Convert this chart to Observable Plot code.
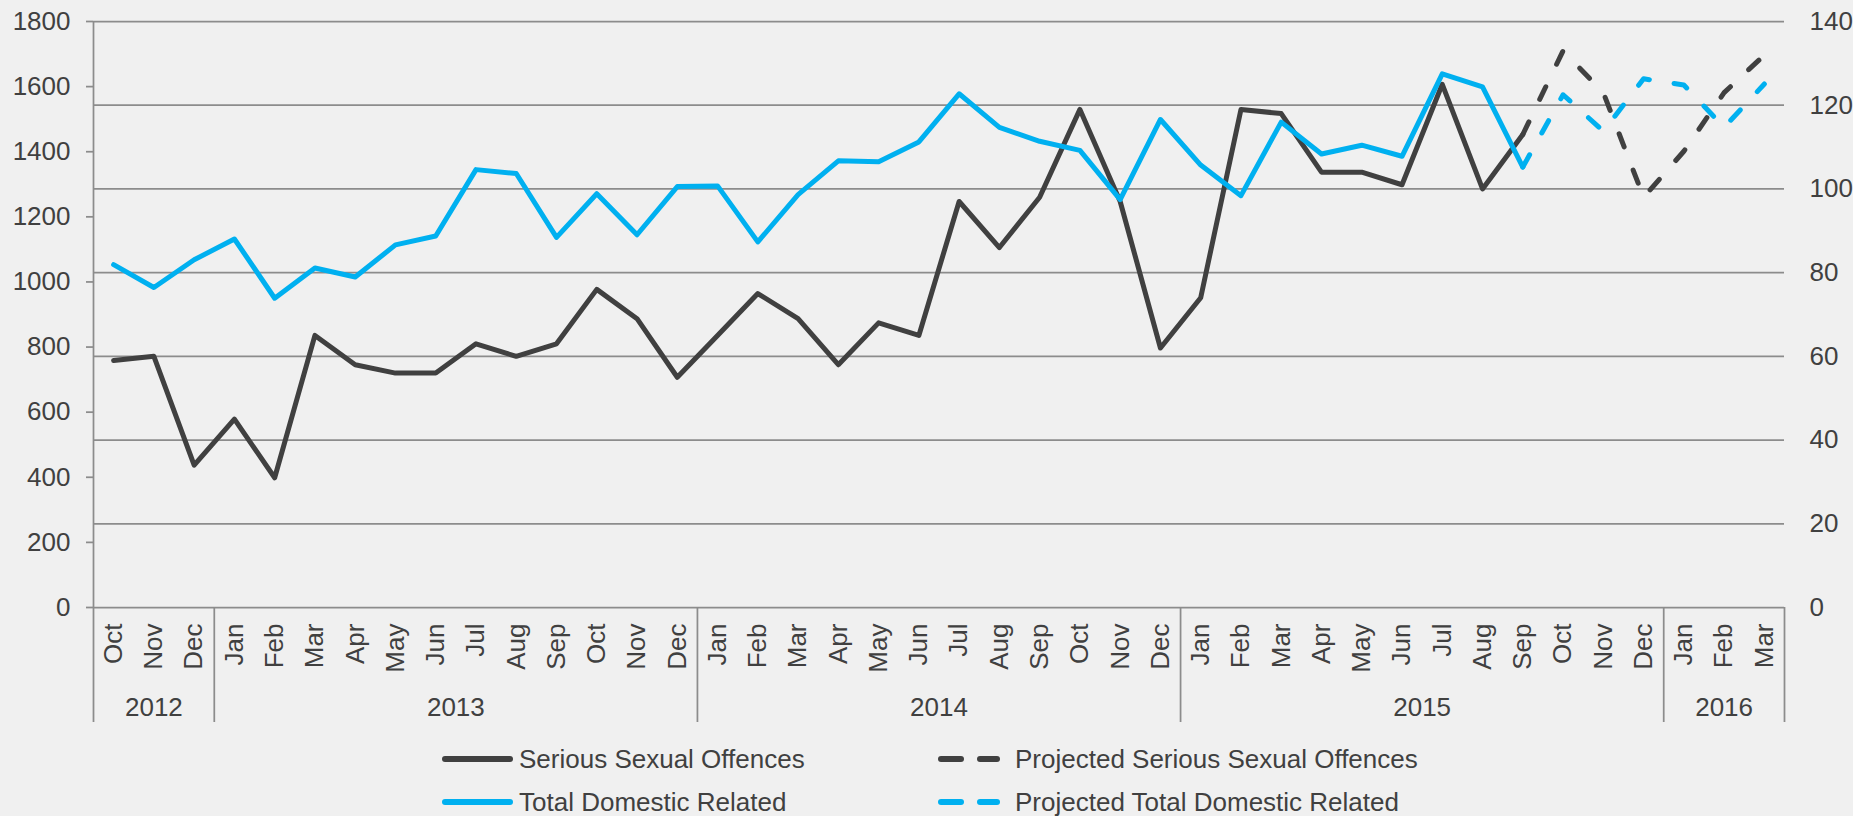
<!DOCTYPE html>
<html>
<head>
<meta charset="utf-8">
<script src="https://cdn.jsdelivr.net/npm/d3@7"></script>
<script src="https://cdn.jsdelivr.net/npm/@observablehq/plot@0.6"></script>
<style>
html, body { margin: 0; padding: 0; background: #f0f0f0; }
body { width: 1853px; height: 816px; overflow: hidden; position: relative;
       font-family: "Liberation Sans", Arial, sans-serif; color: #404040; }
#chart svg { display: block; }
.item { position: absolute; height: 26px; line-height: 26px; font-size: 26px; white-space: nowrap; }
.item svg { position: absolute; top: 0; }
</style>
</head>
<body>
<div id="chart"></div>
<div id="legend"></div>
<script>
// ---- Data ----
const months = [
  "Oct","Nov","Dec",
  "Jan","Feb","Mar","Apr","May","Jun","Jul","Aug","Sep","Oct","Nov","Dec",
  "Jan","Feb","Mar","Apr","May","Jun","Jul","Aug","Sep","Oct","Nov","Dec",
  "Jan","Feb","Mar","Apr","May","Jun","Jul","Aug","Sep","Oct","Nov","Dec",
  "Jan","Feb","Mar"
];
const yearLabels = ["2012", "2013", "2014", "2015", "2016"];
const yearMonthCounts = [3, 12, 12, 12, 3];

// Serious Sexual Offences (right axis, Oct 2012 – Sep 2015)
const sexualOffences = [59, 60, 34, 45, 31, 65, 58, 56, 56, 63, 60, 63, 76, 69, 55,
  65, 75, 69, 58, 68, 65, 97, 86, 98, 119, 97, 62,
  74, 119, 118, 104, 104, 101, 125, 100, 113];
// Projected Serious Sexual Offences (Sep 2015 – Mar 2016)
const projectedSexualOffences = [113, 133, 123, 98, 109, 123, 132];

// Total Domestic Related (left axis, Oct 2012 – Sep 2015)
const domesticRelated = [1053, 983, 1068, 1132, 950, 1043, 1015, 1114, 1141, 1345, 1333, 1137, 1271, 1145, 1293,
  1295, 1123, 1268, 1372, 1369, 1430, 1578, 1475, 1432, 1404, 1253, 1499,
  1359, 1265, 1491, 1393, 1420, 1386, 1639, 1599, 1353];
// Projected Total Domestic Related (Sep 2015 – Mar 2016)
const projectedDomesticRelated = [1353, 1575, 1463, 1624, 1605, 1475, 1608];

const leftTicks = [0, 200, 400, 600, 800, 1000, 1200, 1400, 1600, 1800];
const rightTicks = [0, 20, 40, 60, 80, 100, 120, 140];

// ---- Build ----
const leftMax = 1800, rightMax = 140;
const k = leftMax / rightMax; // right-axis units -> left-axis units
const n = months.length;
const dark = "#404040", blue = "#00b0f0", grid = "#8c8c8c", textColor = "#404040";

const monthData = months.map((m, i) => ({m, i}));
let acc = 0;
const yearData = yearLabels.map((y, j) => { const s = acc; acc += yearMonthCounts[j]; return {y, s, e: acc}; });
const bounds = [0, ...yearData.map(d => d.e)];

const lastActual = sexualOffences.length - 1;
const sSolid = sexualOffences.map((v, i) => ({i, v: v * k}));
const sProj = projectedSexualOffences.map((v, j) => ({i: lastActual + j, v: v * k}));
const dSolid = domesticRelated.map((v, i) => ({i, v}));
const dProj = projectedDomesticRelated.map((v, j) => ({i: lastActual + j, v}));

const X = d => d.i + 0.5, Y = d => d.v;

const plot = Plot.plot({
  width: 1853, height: 735,
  marginLeft: 93, marginRight: 69, marginTop: 21, marginBottom: 128,
  style: {background: "#f0f0f0", fontFamily: "'Liberation Sans', Arial, sans-serif", fontSize: "26px", color: textColor, overflow: "visible"},
  x: {domain: [0, n], axis: null},
  y: {domain: [0, leftMax], axis: null, label: null},
  marks: [
    Plot.ruleY(rightTicks.map(v => v * k), {stroke: grid, strokeWidth: 1.75}),
    Plot.ruleX([0], {y1: 0, y2: leftMax, stroke: grid, strokeWidth: 1.75}),
    Plot.ruleX(bounds, {y1: 0, y2: 0, insetBottom: -115, stroke: grid, strokeWidth: 1.75}),
    Plot.axisY(leftTicks, {anchor: "left", tickSize: 7, tickPadding: 16, stroke: grid, strokeWidth: 1.75, fill: textColor, tickFormat: d => String(d), label: null, fontSize: 26}),
    Plot.axisY(rightTicks.map(v => v * k), {anchor: "right", tickSize: 0, tickPadding: 25, fill: textColor, tickFormat: d => String(Math.round(d / k)), label: null, fontSize: 26, textAnchor: "start"}),
    Plot.text(monthData, {x: d => d.i + 0.5, text: d => d.m, frameAnchor: "bottom", dy: 16, rotate: -90, textAnchor: "end", lineAnchor: "middle", fill: textColor, fontSize: 26}),
    Plot.text(yearData, {x: d => (d.s + d.e) / 2, text: d => d.y, frameAnchor: "bottom", dy: 100, lineAnchor: "middle", fill: textColor, fontSize: 26}),
    Plot.line(dProj, {x: X, y: Y, stroke: blue, strokeWidth: 5, strokeDasharray: "14,25", strokeLinecap: "round"}),
    Plot.line(sProj, {x: X, y: Y, stroke: dark, strokeWidth: 5, strokeDasharray: "14,25", strokeLinecap: "round"}),
    Plot.line(sSolid, {x: X, y: Y, stroke: dark, strokeWidth: 5}),
    Plot.line(dSolid, {x: X, y: Y, stroke: blue, strokeWidth: 5})
  ]
});
document.getElementById("chart").appendChild(plot);

// ---- Legend (HTML below the SVG) ----
const legendItems = [
  {label: "Serious Sexual Offences", color: dark, dashed: false, left: 442, top: 746},
  {label: "Projected Serious Sexual Offences", color: dark, dashed: true, left: 938, top: 746},
  {label: "Total Domestic Related", color: blue, dashed: false, left: 442, top: 789},
  {label: "Projected Total Domestic Related", color: blue, dashed: true, left: 938, top: 789}
];
const legend = document.getElementById("legend");
for (const it of legendItems) {
  const div = document.createElement("div");
  div.className = "item";
  div.style.left = it.left + "px";
  div.style.top = it.top + "px";
  const sw = it.dashed ? 62 : 71;
  const seg = it.dashed
    ? `<line x1="3" y1="13" x2="23" y2="13"/><line x1="42" y1="13" x2="59" y2="13"/>`
    : `<line x1="3" y1="13" x2="68" y2="13"/>`;
  div.innerHTML = `<svg width="${sw}" height="26" style="left:0"><g stroke="${it.color}" stroke-width="6" stroke-linecap="round">${seg}</g></svg>` +
    `<span style="position:absolute;left:77px;top:0">${it.label}</span>`;
  legend.appendChild(div);
}
</script>
</body>
</html>
